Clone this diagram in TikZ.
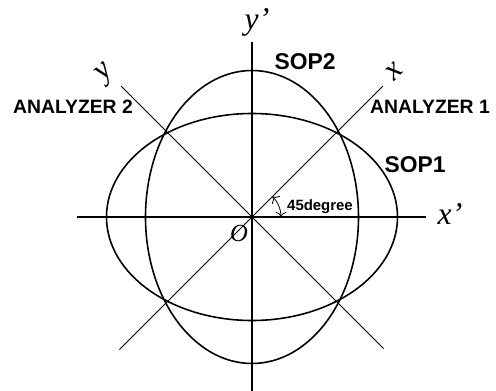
\documentclass[tikz,border=0pt]{standalone}
\usepackage{fontspec}
\setmainfont{Liberation Serif}
\setsansfont{Liberation Sans}
\usepackage{tikz}
\usetikzlibrary{arrows.meta}

\tikzset{
  axis/.style={line width=0.6pt},
  diag/.style={line width=0.45pt},
  sop/.style={line width=0.9pt},
  tag/.style={font=\sffamily\bfseries\fontsize{11}{13}\selectfont},
  soplabel/.style={font=\sffamily\bfseries\fontsize{13}{15}\selectfont},
  axlabel/.style={font=\itshape\fontsize{18}{20}\selectfont, inner sep=0pt}
}

\begin{document}
\begin{tikzpicture}
  \useasboundingbox (-5.04,-3.48) rectangle (4.88,4.34);

  % Axes x' and y'
  \draw[axis] (-3.5,0) -- (3.48,0);
  \draw[axis] (0,3.5) -- (0,-3.48);
  \node[axlabel] (xp) at (3.96,0.06) {x'};
  \node[axlabel] (yp) at (0.1,3.9) {y'};

  % Analyzer axes x and y
  \draw[diag] (225:3.75) -- (45:3.7);
  \draw[diag] (315:3.72) -- (135:3.7);
  \node[axlabel, rotate=45] (xa) at (2.84,2.92) {x};
  \node[axlabel, rotate=45] (ya) at (-2.92,2.86) {y};

  % Polarisation ellipses
  \draw[sop] (0,0) ellipse [x radius=2.91, y radius=2.07];
  \draw[sop] (0,0) ellipse [x radius=2.13, y radius=2.93];

  % Labels
  \node[soplabel] (sop1) at (3.26,1.04) {SOP1};
  \node[soplabel] (sop2) at (1.06,3.1) {SOP2};
  \node[tag] (an1) at (3.56,2.2) {ANALYZER 1};
  \node[tag] (an2) at (-3.58,2.2) {ANALYZER 2};
  \node[font=\itshape\fontsize{14}{16}\selectfont] (o) at (-0.26,-0.32) {O};

  % Angle
  \draw[<->, >={To[length=3pt]}, line width=0.45pt] (45:0.58) arc [start angle=45, end angle=0, radius=0.58];
  \node[font=\sffamily\bfseries\fontsize{8.5}{10}\selectfont] (ang) at (1.36,0.2) {45degree};
\end{tikzpicture}
\end{document}
